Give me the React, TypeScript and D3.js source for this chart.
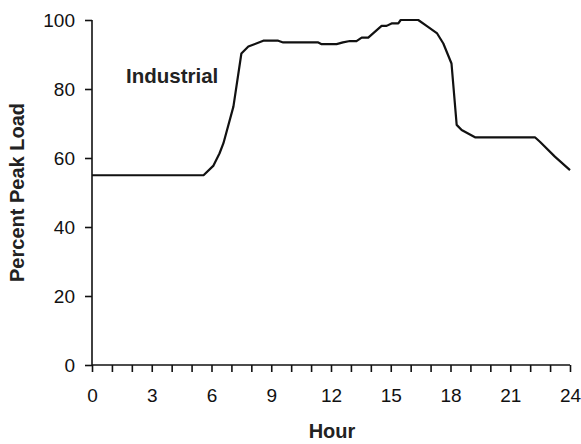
import { useEffect, useRef } from "react";
import * as d3 from "d3";

// hour of day vs percent of peak load
const hours = [0, 5.6, 6.1, 6.4, 6.6, 7.1, 7.5, 7.85, 8.6, 9.35, 9.6, 11.36, 11.53, 12.28, 12.6, 12.95, 13.28, 13.54, 13.87, 14.54, 14.79, 15.04, 15.38, 15.5, 16.38, 16.8, 17.33, 17.64, 18.05, 18.31, 18.56, 19.23, 22.24, 22.49, 23.24, 24];
const load = [55, 55, 57.8, 61.3, 64.3, 74.9, 90.3, 92.3, 94, 94, 93.5, 93.5, 93, 93, 93.5, 93.9, 93.9, 94.9, 94.9, 98.3, 98.3, 99, 99, 100, 100, 98.3, 96.1, 93.2, 87.4, 69.6, 68.1, 66, 66, 64.7, 60.4, 56.5];
const yTicks = [0, 20, 40, 60, 80, 100];
const seriesLabel = "Industrial";

const W = 581;
const H = 444;
const FONT = "'Liberation Sans', Arial, sans-serif";

const App = () => {
  const svgRef = useRef<SVGSVGElement>(null);

  useEffect(() => {
    if (!svgRef.current) return;
    const svg = d3.select(svgRef.current);
    svg.selectAll("*").remove();

    const x = d3.scaleLinear().domain([0, 24]).range([92, 570]);
    const y = d3.scaleLinear().domain([0, 100]).range([365, 20]);

    const xAxis = d3
      .axisBottom(x)
      .tickValues(d3.range(0, 25))
      .tickSize(7)
      .tickPadding(17)
      .tickFormat((d: any) => (d % 3 === 0 ? String(d) : ""));

    const gx = svg.append("g").attr("transform", `translate(0,${y(0)})`).call(xAxis);
    gx.select(".domain").attr("d", `M${x(0)},0H${x(24)}`);

    const yAxis = d3.axisLeft(y).tickValues(yTicks).tickSize(7).tickPadding(10);
    const gy = svg.append("g").attr("transform", `translate(${x(0)},0)`).call(yAxis);
    gy.select(".domain").attr("d", `M0,${y(0)}V${y(100)}`);

    svg
      .selectAll(".tick text")
      .attr("font-family", FONT)
      .attr("font-size", 19)
      .attr("fill", "#111");
    svg.selectAll(".domain, .tick line").attr("stroke", "#111").attr("stroke-width", 1.6);

    const line = d3
      .line<number>()
      .x((_, i) => x(hours[i]))
      .y((d) => y(d));

    svg
      .append("path")
      .datum(load)
      .attr("d", line)
      .attr("fill", "none")
      .attr("stroke", "#111")
      .attr("stroke-width", 2.2)
      .attr("stroke-linejoin", "round");

    svg
      .append("text")
      .attr("x", 126)
      .attr("y", 83)
      .attr("font-family", FONT)
      .attr("font-weight", "bold")
      .attr("font-size", 20.5)
      .attr("fill", "#222")
      .text(seriesLabel);

    svg
      .append("text")
      .attr("x", 332)
      .attr("y", 438)
      .attr("text-anchor", "middle")
      .attr("font-family", FONT)
      .attr("font-weight", "bold")
      .attr("font-size", 20)
      .attr("fill", "#222")
      .text("Hour");

    svg
      .append("text")
      .attr("transform", `translate(24,${(y(0) + y(100)) / 2}) rotate(-90)`)
      .attr("text-anchor", "middle")
      .attr("font-family", FONT)
      .attr("font-weight", "bold")
      .attr("font-size", 20)
      .attr("fill", "#222")
      .text("Percent Peak Load");
  }, []);

  return (
    <div style={{ position: "absolute", left: 0, top: 0, width: W, height: H, background: "#fff" }}>
      <svg ref={svgRef} width={W} height={H} style={{ display: "block" }}></svg>
    </div>
  );
};

export default App;
